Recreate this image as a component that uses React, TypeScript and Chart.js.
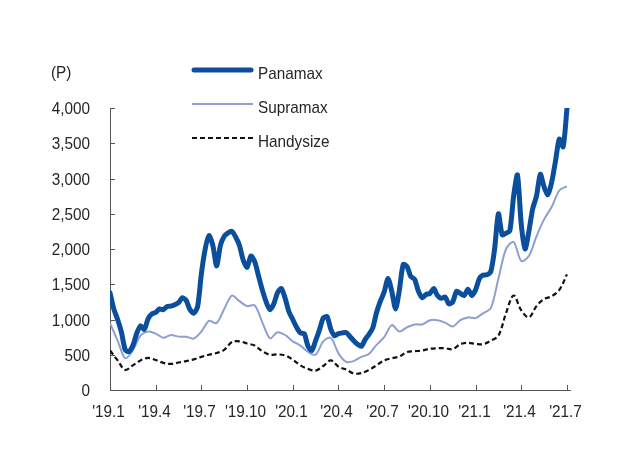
import React, { useEffect, useRef } from "react";
import { Chart, registerables } from "chart.js";

Chart.register(...registerables);

// ---- data (months since Jan 2019) ----
const xTickMonths = [0, 3, 6, 9, 12, 15, 18, 21, 24, 27, 30];
const xTickLabels = ["'19.1", "'19.4", "'19.7", "'19.10", "'20.1", "'20.4", "'20.7", "'20.10", "'21.1", "'21.4", "'21.7"];
const yMax = 4000;
const yStep = 500;
const unitLabel = "(P)";
const seriesNames = ["Panamax", "Supramax", "Handysize"];

// Panamax, one value per quarter month
const panamaxStep = 0.25;
const panamax = [
  1380, 1150, 1000, 820,
  570, 545, 630, 800,
  910, 860, 1010, 1080,
  1100, 1150, 1140, 1185,
  1190, 1210, 1240, 1310,
  1270, 1140, 1090, 1180,
  1650, 2000, 2190, 2050,
  1760, 2050, 2180, 2230,
  2250, 2170, 2050, 1840,
  1740, 1900, 1820, 1620,
  1420, 1250, 1140, 1220,
  1380, 1440, 1300, 1110,
  1000, 890, 810, 800,
  620, 560, 700, 850,
  1020, 1040, 860, 770,
  800, 810, 815, 760,
  700, 650, 620, 715,
  790, 880, 1100, 1260,
  1390, 1580, 1400, 1150,
  1420, 1780, 1750, 1610,
  1570, 1400, 1310, 1355,
  1370, 1440, 1340, 1300,
  1320, 1220, 1250, 1400,
  1370, 1340, 1430, 1340,
  1420, 1580, 1630, 1635,
  1680, 2000, 2500, 2200,
  2225, 2260, 2750, 3050,
  2350, 2000, 2250, 2570,
  2750, 3060, 2880, 2770,
  2950, 3250, 3560, 3450,
  3990,
];

// Supramax and Handysize, one value per half month
const halfStep = 0.5;
const supramax = [
  950, 700, 450, 560, 770, 828, 800, 740, 780, 757,
  755, 730, 830, 980, 950, 1150, 1340, 1260, 1190, 1200,
  960, 734, 820, 780, 690, 630, 540, 500, 690, 740,
  520, 400, 410, 470, 510, 640, 750, 920, 830, 890,
  930, 930, 990, 990, 955, 900, 990, 1030, 1020, 1090,
  1160, 1580, 2000, 2100, 1830, 1900, 2180, 2420, 2600, 2830,
  2890,
];
const handysize = [
  560, 420, 285, 350, 420, 455, 425, 385, 370, 390,
  410, 435, 470, 500, 525, 570, 680, 690, 660, 630,
  550, 500, 505, 490, 430, 350, 300, 275, 340, 420,
  330, 290, 235, 240, 285, 350, 420, 450, 475, 540,
  550, 560, 585, 592, 592, 580, 650, 670, 655, 650,
  700, 770, 1090, 1340, 1130, 1030, 1190, 1290, 1330, 1420,
  1640,
];

// ---- styles ----
const FONT = "17px 'Liberation Sans', Arial, sans-serif";
const SX = 0.9; // horizontal text compression
const TEXT = "#262626";
const AXIS = "#555555";
const PANAMAX_COLOR = "#0b4f9c";
const SUPRAMAX_COLOR = "#8ea0d0";
const HANDY_COLOR = "#111111";

const toPoints = (vals: number[], step: number) => vals.map((v, i) => ({ x: i * step, y: v }));

function drawText(ctx: any, text: string, x: number, y: number, align: string) {
  ctx.save();
  ctx.scale(SX, 1);
  ctx.textAlign = align;
  ctx.fillText(text, x / SX, y);
  ctx.restore();
}

const overlayPlugin = {
  id: "overlay",
  afterDraw(chart: any) {
    const { ctx } = chart;
    const x = chart.scales.x;
    const y = chart.scales.y;
    ctx.save();
    ctx.strokeStyle = AXIS;
    ctx.lineWidth = 1;
    ctx.setLineDash([]);
    ctx.fillStyle = TEXT;
    ctx.font = FONT;
    ctx.textBaseline = "alphabetic";

    x.ticks.forEach((t: any) => {
      const px = Math.round(x.getPixelForValue(t.value)) + 0.5;
      ctx.beginPath();
      ctx.moveTo(px, y.bottom);
      ctx.lineTo(px, y.bottom - 5);
      ctx.stroke();
      const i = xTickMonths.indexOf(t.value);
      if (i >= 0) drawText(ctx, xTickLabels[i], px - 2, y.bottom + 27, "center");
    });
    y.ticks.forEach((t: any) => {
      const py = Math.round(y.getPixelForValue(t.value)) + 0.5;
      ctx.beginPath();
      ctx.moveTo(x.left, py);
      ctx.lineTo(x.left + 5, py);
      ctx.stroke();
      drawText(ctx, Number(t.value).toLocaleString("en-US"), x.left - 20, py + 5.5, "right");
    });

    drawText(ctx, unitLabel, 51, 78, "left");

    const rows = [70, 104, 138];
    const styles = [
      { color: PANAMAX_COLOR, width: 5, dash: [] as number[], cap: "round" },
      { color: SUPRAMAX_COLOR, width: 2, dash: [] as number[], cap: "butt" },
      { color: HANDY_COLOR, width: 2.2, dash: [5, 3], cap: "butt" },
    ];
    seriesNames.forEach((name, i) => {
      const s = styles[i];
      ctx.strokeStyle = s.color;
      ctx.lineWidth = s.width;
      ctx.lineCap = s.cap;
      ctx.setLineDash(s.dash);
      ctx.beginPath();
      ctx.moveTo(s.cap === "round" ? 194 : 192, rows[i]);
      ctx.lineTo(s.cap === "round" ? 251 : 253, rows[i]);
      ctx.stroke();
      ctx.setLineDash([]);
      drawText(ctx, name, 258, rows[i] + 8.5, "left");
    });
    ctx.restore();
  },
};

export default function App() {
  const ref = useRef<HTMLCanvasElement | null>(null);
  useEffect(() => {
    if (!ref.current) return;
    const chart = new Chart(ref.current, {
      type: "line",
      data: {
        datasets: [
          {
            label: seriesNames[0],
            data: toPoints(panamax, panamaxStep),
            borderColor: PANAMAX_COLOR,
            borderWidth: 5,
            pointRadius: 0,
            tension: 0.25,
            borderJoinStyle: "round",
            borderCapStyle: "round",
          },
          {
            label: seriesNames[1],
            data: toPoints(supramax, halfStep),
            borderColor: SUPRAMAX_COLOR,
            borderWidth: 2,
            pointRadius: 0,
            tension: 0.3,
          },
          {
            label: seriesNames[2],
            data: toPoints(handysize, halfStep),
            borderColor: HANDY_COLOR,
            borderWidth: 2.2,
            borderDash: [5, 3],
            pointRadius: 0,
            tension: 0.35,
          },
        ],
      },
      options: {
        animation: false,
        responsive: false,
        layout: { padding: { top: 108, right: 60, left: 0, bottom: 0 } },
        plugins: { legend: { display: false }, tooltip: { enabled: false } },
        scales: {
          x: {
            type: "linear",
            min: 0,
            max: 30.2,
            grid: { display: false, drawTicks: false },
            border: { display: true, color: AXIS, width: 1 },
            afterBuildTicks: (s: any) => {
              s.ticks = xTickMonths.map((v) => ({ value: v }));
            },
            afterFit: (s: any) => {
              s.height = 69;
            },
            ticks: { display: false },
          },
          y: {
            min: 0,
            max: yMax,
            grid: { display: false, drawTicks: false },
            border: { display: true, color: AXIS, width: 1 },
            afterFit: (s: any) => {
              s.width = 110;
            },
            ticks: { display: false, stepSize: yStep },
          },
        },
      },
      plugins: [overlayPlugin],
    } as any);
    return () => chart.destroy();
  }, []);
  return (
    <div style={{ position: "absolute", left: 0, top: 0, width: 630, height: 459, background: "#fff" }}>
      <canvas ref={ref} width={630} height={459} />
    </div>
  );
}
